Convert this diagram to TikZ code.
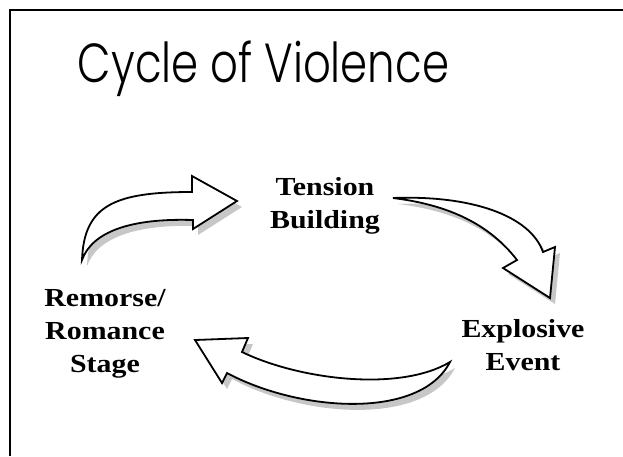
\documentclass[tikz,border=0pt]{standalone}
\usepackage{fontspec}
\setmainfont{Liberation Serif}
\newfontfamily\titlefont{Poppins Light}[FakeStretch=0.79]
\newfontfamily\labelfont{Liberation Serif}[FakeStretch=1.15]
\begin{document}
\begin{tikzpicture}[x=1pt,y=-1pt,
  label/.style={font=\labelfont\fontsize{26}{33}\selectfont\bfseries, align=center, inner sep=0pt, anchor=base},
  blockarrow/.style={draw=black, line width=1.8pt, fill=white, line join=miter},
  arrowshadow/.style={fill=black!22, draw=none},
]
\useasboundingbox (0,0) rectangle (623,456);
\fill[white] (0,0) rectangle (623,456);

% frame (left and top edges)
\draw[line width=2pt] (10,456) -- (10,10) -- (623,10);

% title
\node[font=\titlefont\fontsize{55}{60}\selectfont, anchor=base, inner sep=0pt] (title) at (263.5,82) {Cycle of Violence};

% stage labels (anchored at the baseline of the last line)
\node[label] (tension) at (325,228) {Tension\\Building};
\node[label] (explosive) at (523,370) {Explosive\\Event};
\node[label] (remorse) at (105,372) {Remorse/\\Romance\\Stage};

% curved block arrows: shadow first, then outlined body
\def\arrowA{(82,260) .. controls (84,205) and (115,192) .. (192,192) -- (192,176) -- (237,201) -- (193,229) -- (193,220) .. controls (130,218) and (92,232) .. (82,260) -- cycle}
\def\arrowB{(393,198) .. controls (470,195) and (530,215) .. (543,252) -- (555,247) -- (550,298) -- (503,268) -- (517,260) .. controls (490,225) and (450,205) .. (393,198) -- cycle}
\def\arrowC{(450,362) .. controls (400,392) and (300,380) .. (242,352) -- (248,338) -- (195,340) -- (222,383) -- (227,373) .. controls (300,412) and (420,420) .. (450,362) -- cycle}

\begin{scope}[shift={(5,6)}]
  \fill[arrowshadow] \arrowA;
  \fill[arrowshadow] \arrowB;
  \fill[arrowshadow] \arrowC;
\end{scope}
\filldraw[blockarrow] \arrowA;
\filldraw[blockarrow] \arrowB;
\filldraw[blockarrow] \arrowC;
\end{tikzpicture}
\end{document}
